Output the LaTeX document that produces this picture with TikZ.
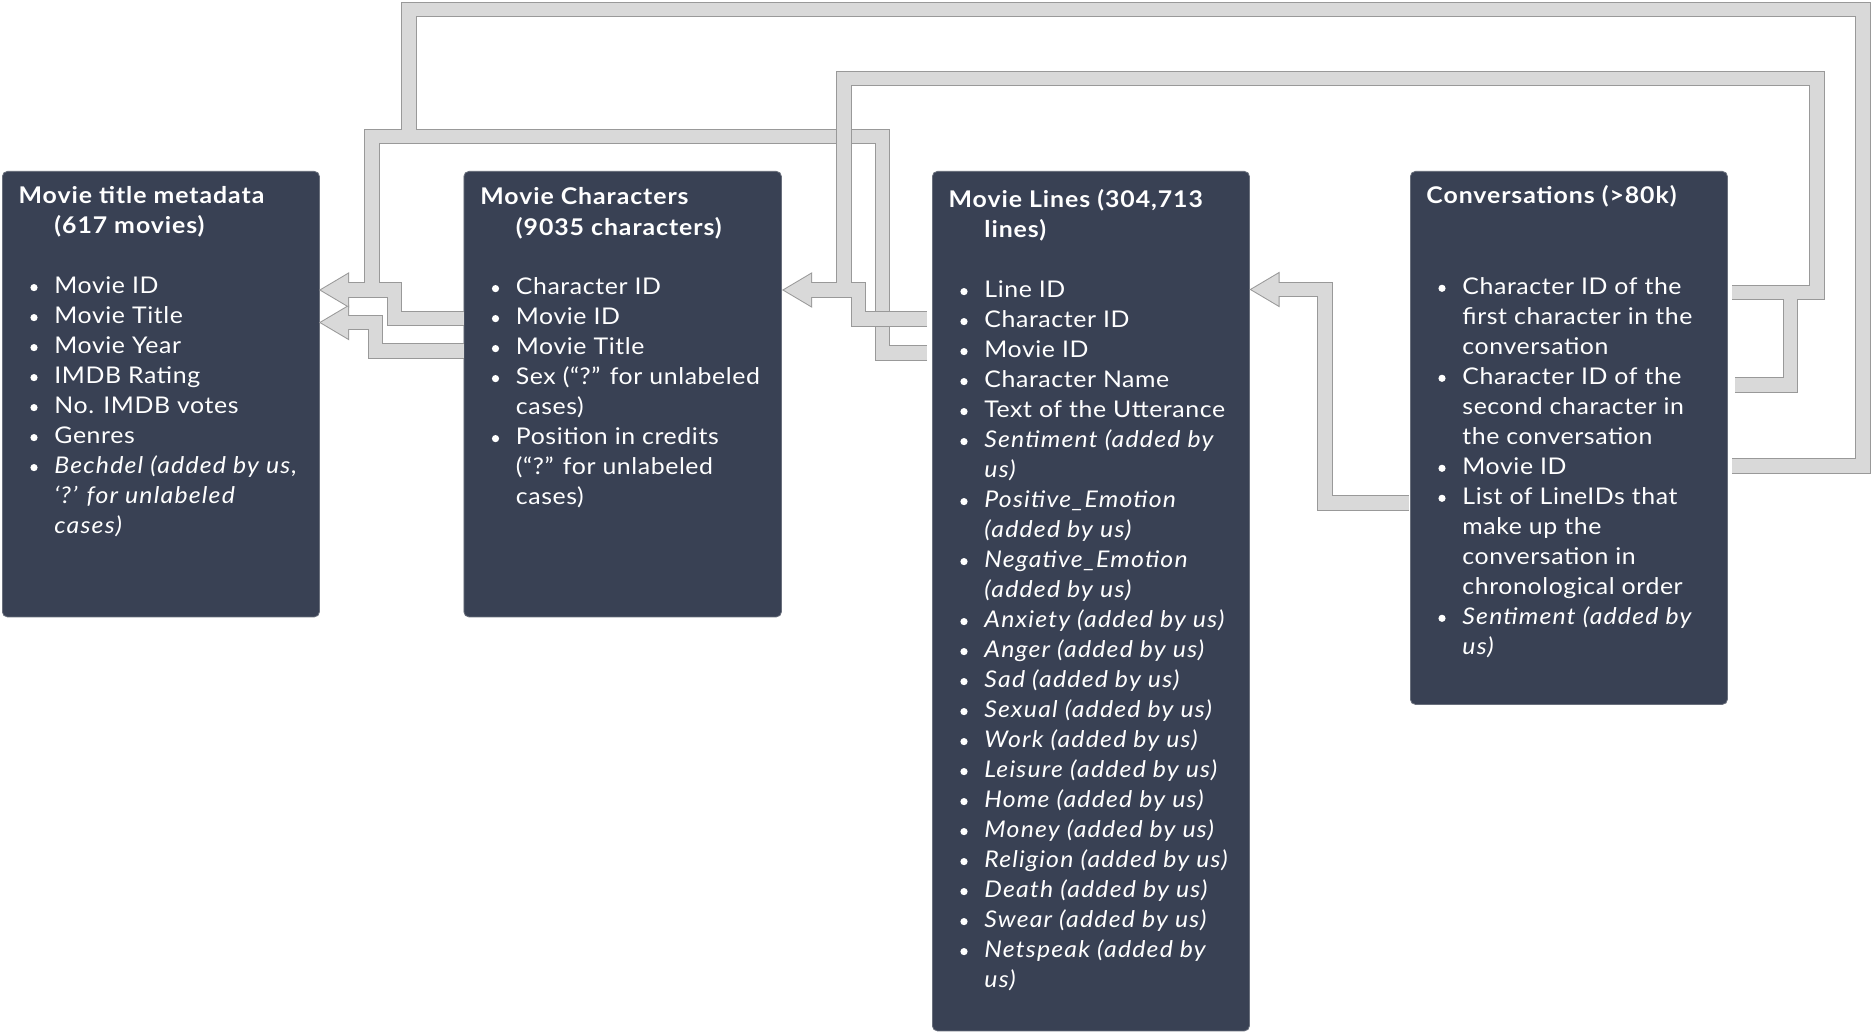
\documentclass[tikz,border=0pt]{standalone}
\usepackage{fontspec}
\setmainfont{Lato}
\newfontfamily\regfont{Lato}[FakeStretch=1.08, LetterSpace=2.6]
\newfontfamily\ttlfont{Lato}[FakeStretch=1.08, LetterSpace=4.1]
\newfontfamily\itfont{Lato}[FakeStretch=1.08, LetterSpace=5.2]
\definecolor{boxc}{RGB}{57,65,84}
\definecolor{boxedge}{RGB}{105,111,124}
\definecolor{oc}{RGB}{153,153,153}
\definecolor{lc}{RGB}{217,217,217}
\tikzset{
  txt/.style={anchor=base west, inner sep=0pt, text=white, font=\regfont\fontsize{11.5}{15}\selectfont},
  ttl/.style={txt, font=\ttlfont\fontsize{11.5}{15}\selectfont\bfseries},
  itx/.style={txt, font=\itfont\fontsize{11.5}{15}\selectfont\itshape},
  tbl/.style={anchor=north west, fill=boxc, draw=boxedge, line width=0.4pt, rounded corners=2.5pt, inner sep=0pt},
  bandout/.style={draw=oc, line width=7.75pt, line join=miter, line cap=butt},
  bandin/.style={draw=lc, line width=6.75pt, line join=miter, line cap=butt},
  headout/.style={draw=oc, fill=oc, line width=1pt, line join=miter},
  headin/.style={fill=lc},
}
% bullet line: name, box left, baseline, style, text
\newcommand\bl[5]{\fill[white] (#2+32,#3-5.7) circle[radius=1.8pt];
  \node[#4] (#1) at (#2+52,#3) {#5};}
% continuation line
\newcommand\cl[5]{\node[#4] (#1) at (#2+52,#3) {#5};}
% arrow head pointing left, tip at (#2,#3)
\newcommand\ahead[3]{\path[#1] (#2+2,#3) -- (#2+29,#3-16) -- (#2+29,#3+16) -- cycle;}
% connector paths
\newcommand\PA[1]{\draw[#1] (cA1) -- (1863,466) -- (1863,9.3) -- (409,9.3) -- (409,136.5);}
\newcommand\PB[1]{\draw[#1] (cB1) -- (882.5,353) -- (882.5,136.5) -- (372,136.5) -- (372,290) -- (339,290);}
\newcommand\PC[1]{\draw[#1] (cC1) -- (394.5,318.5) -- (394.5,290) -- (339,290);}
\newcommand\PD[1]{\draw[#1] (cD1) -- (375.5,351) -- (375.5,322.5) -- (339,322.5);}
\newcommand\PE[1]{\draw[#1] (cE1) -- (1817,292.5) -- (1817,78.3) -- (844,78.3) -- (844,290) -- (802,290);}
\newcommand\PF[1]{\draw[#1] (cF1) -- (1790.5,385) -- (1790.5,292.5);}
\newcommand\PG[1]{\draw[#1] (cG1) -- (858.5,319) -- (858.5,290) -- (802,290);}
\newcommand\PH[1]{\draw[#1] (cH1) -- (1325,503) -- (1325,289.5) -- (1269.5,289.5);}
\begin{document}
\begin{tikzpicture}[x=0.5pt,y=-0.5pt]
\useasboundingbox (0,0) rectangle (1872,1032);
\fill[white] (0,0) rectangle (1872,1032);

% tables
\node[tbl, minimum width=158.5pt, minimum height=222.75pt] (meta) at (2,171) {};
\node[tbl, minimum width=158.75pt, minimum height=222.75pt] (chars) at (463.5,171) {};
\node[tbl, minimum width=158.5pt, minimum height=429.75pt] (lines) at (932,171) {};
\node[tbl, minimum width=158.5pt, minimum height=266.5pt] (conv) at (1410,171) {};

% connector end points
\coordinate (cA1) at (1732,466);
\coordinate (cB1) at (927,353);
\coordinate (cC1) at (463.5,318.5);
\coordinate (cD1) at (463.5,351);
\coordinate (cE1) at (1732,292.5);
\coordinate (cF1) at (1735,385);
\coordinate (cG1) at (927,319);
\coordinate (cH1) at (1409,503);
\coordinate (tMovieID) at (319,290);
\coordinate (tMovieTitle) at (319,322.5);
\coordinate (tCharID) at (782,290);
\coordinate (tLineID) at (1249.5,289.5);

% group A: into Movie title metadata
\PA{bandout}\PB{bandout}\PC{bandout}\PD{bandout}
\ahead{headout}{319}{290}\ahead{headout}{319}{322.5}
\PA{bandin}\PB{bandin}\PC{bandin}\PD{bandin}
\ahead{headin}{319}{290}\ahead{headin}{319}{322.5}
% group B: into Movie Characters
\PE{bandout}\PF{bandout}\PG{bandout}
\ahead{headout}{782}{290}
\PE{bandin}\PF{bandin}\PG{bandin}
\ahead{headin}{782}{290}
% group C: into Movie Lines
\PH{bandout}\ahead{headout}{1249.5}{289.5}
\PH{bandin}\ahead{headin}{1249.5}{289.5}

% Movie title metadata
\node[ttl] (m0) at (18.3,203.3) {Movie title metadata};
\node[ttl] (m00) at (54,233.3) {(617 movies)};
\bl{m1}{2}{293.3}{txt}{Movie ID}
\bl{m2}{2}{323.3}{txt}{Movie Title}
\bl{m3}{2}{353.3}{txt}{Movie Year}
\bl{m4}{2}{383.3}{txt}{IMDB Rating}
\bl{m5}{2}{413.3}{txt}{No. IMDB votes}
\bl{m6}{2}{443.3}{txt}{Genres}
\bl{m7}{2}{473.3}{itx}{Bechdel (added by us,}
\cl{m8}{2}{503.3}{itx}{‘?’ for unlabeled}
\cl{m9}{2}{533.3}{itx}{cases)}

% Movie Characters
\node[ttl] (c0) at (480,205) {Movie Characters};
\node[ttl] (c00) at (515.5,235) {(9035 characters)};
\bl{c1}{463.5}{294.3}{txt}{Character ID}
\bl{c2}{463.5}{324.3}{txt}{Movie ID}
\bl{c3}{463.5}{354.3}{txt}{Movie Title}
\bl{c4}{463.5}{384.3}{txt}{Sex (“?” for unlabeled}
\cl{c5}{463.5}{414.3}{txt}{cases)}
\bl{c6}{463.5}{444.3}{txt}{Position in credits}
\cl{c7}{463.5}{474.3}{txt}{(“?” for unlabeled}
\cl{c8}{463.5}{504.3}{txt}{cases)}

% Movie Lines
\node[ttl] (l0) at (948.3,207.3) {Movie Lines (304,713};
\node[ttl] (l00) at (984,237.3) {lines)};
\bl{l1}{932}{297.3}{txt}{Line ID}
\bl{l2}{932}{327.3}{txt}{Character ID}
\bl{l3}{932}{357.3}{txt}{Movie ID}
\bl{l4}{932}{387.3}{txt}{Character Name}
\bl{l5}{932}{417.3}{txt}{Text of the Utterance}
\bl{l6}{932}{447.3}{itx}{Sentiment (added by}
\cl{l7}{932}{477.3}{itx}{us)}
\bl{l8}{932}{507.3}{itx}{Positive\_Emotion}
\cl{l9}{932}{537.3}{itx}{(added by us)}
\bl{l10}{932}{567.3}{itx}{Negative\_Emotion}
\cl{l11}{932}{597.3}{itx}{(added by us)}
\bl{l12}{932}{627.3}{itx}{Anxiety (added by us)}
\bl{l13}{932}{657.3}{itx}{Anger (added by us)}
\bl{l14}{932}{687.3}{itx}{Sad (added by us)}
\bl{l15}{932}{717.3}{itx}{Sexual (added by us)}
\bl{l16}{932}{747.3}{itx}{Work (added by us)}
\bl{l17}{932}{777.3}{itx}{Leisure (added by us)}
\bl{l18}{932}{807.3}{itx}{Home (added by us)}
\bl{l19}{932}{837.3}{itx}{Money (added by us)}
\bl{l20}{932}{867.3}{itx}{Religion (added by us)}
\bl{l21}{932}{897.3}{itx}{Death (added by us)}
\bl{l22}{932}{927.3}{itx}{Swear (added by us)}
\bl{l23}{932}{957.3}{itx}{Netspeak (added by}
\cl{l24}{932}{987.3}{itx}{us)}

% Conversations
\node[ttl] (v0) at (1426,203.3) {Conversations (>80k)};
\bl{v1}{1410}{294}{txt}{Character ID of the}
\cl{v2}{1410}{324}{txt}{first character in the}
\cl{v3}{1410}{354}{txt}{conversation}
\bl{v4}{1410}{384}{txt}{Character ID of the}
\cl{v5}{1410}{414}{txt}{second character in}
\cl{v6}{1410}{444}{txt}{the conversation}
\bl{v7}{1410}{474}{txt}{Movie ID}
\bl{v8}{1410}{504}{txt}{List of LineIDs that}
\cl{v9}{1410}{534}{txt}{make up the}
\cl{v10}{1410}{564}{txt}{conversation in}
\cl{v11}{1410}{594}{txt}{chronological order}
\bl{v12}{1410}{624}{itx}{Sentiment (added by}
\cl{v13}{1410}{654}{itx}{us)}
\end{tikzpicture}
\end{document}
